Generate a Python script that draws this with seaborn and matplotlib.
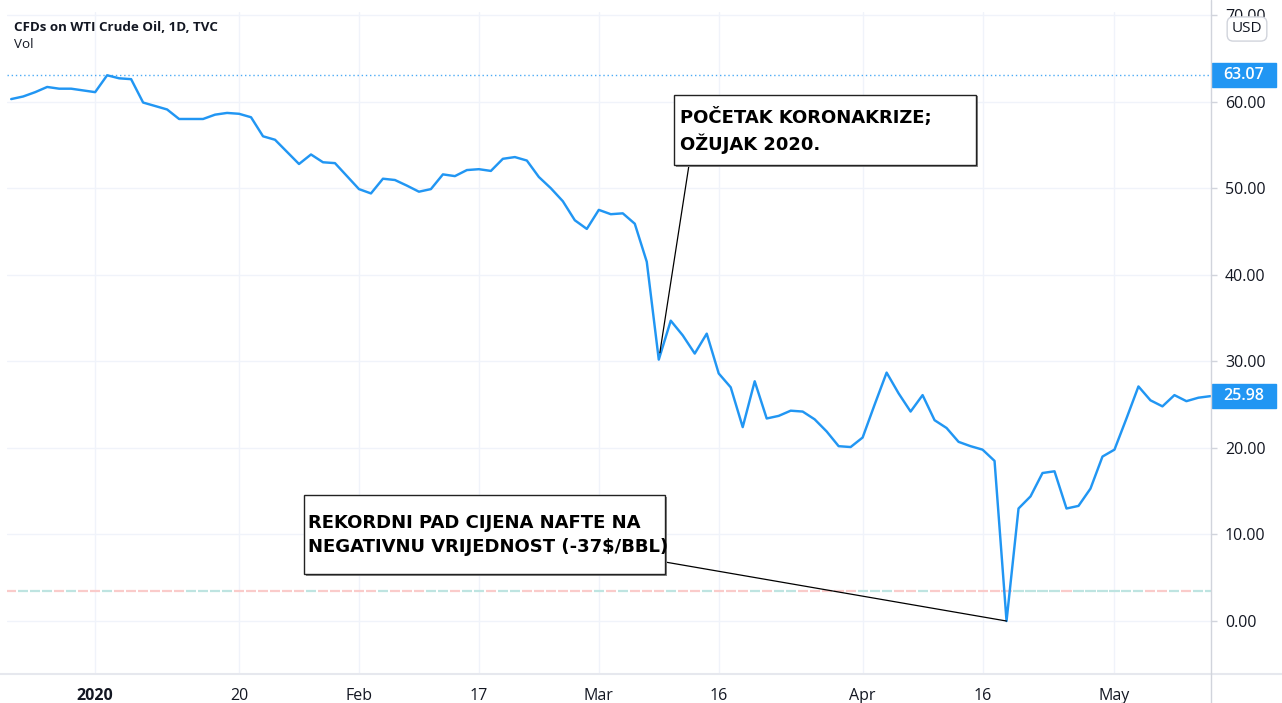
import numpy as np
import pandas as pd
import matplotlib
matplotlib.use("Agg")
import matplotlib.pyplot as plt
import matplotlib.transforms as mtransforms
from matplotlib.patches import Rectangle
from matplotlib.lines import Line2D
import seaborn as sns

# trading days on the chart (CFD calendar, no Dec 25 / Jan 1 / Good Friday)
start_date = "2019-12-20"
end_date = "2020-05-13"
holidays = ["2019-12-25", "2020-01-01", "2020-04-10"]

# daily close
close = [
    60.3, 60.6, 61.1, 61.7, 61.5, 61.5, 61.3,                    # Dec
    61.1, 63.05, 62.7, 62.6, 59.9, 59.5, 59.1, 58.0, 58.0, 58.0,  # Jan
    58.5, 58.7, 58.6, 58.2, 56.0, 55.6, 54.2, 52.8, 53.9, 53.0,
    52.9, 51.4,
    49.9, 49.4, 51.1, 50.95, 50.3, 49.6, 49.9, 51.6, 51.4, 52.1,  # Feb
    52.2, 52.0, 53.4, 53.6, 53.2, 51.3, 50.0, 48.5, 46.3, 45.3,
    47.5, 47.0, 47.1, 45.9, 41.5, 30.2, 34.7, 33.0, 30.9, 33.2,   # Mar
    28.6, 27.0, 22.4, 27.7, 23.4, 23.7, 24.3, 24.2, 23.3, 21.9,
    20.2, 20.1,
    21.2, 25.0, 28.7, 26.3, 24.2, 26.1, 23.2, 22.3, 20.7, 20.2,   # Apr
    19.8, 18.5, 0.0, 13.0, 14.4, 17.1, 17.3, 13.0, 13.3, 15.3,
    19.0,
    19.8, 23.4, 27.1, 25.5, 24.8, 26.1, 25.4, 25.8, 25.98,        # May
]

tick_dates = ["2020-01-02", "2020-01-20", "2020-02-03", "2020-02-17", "2020-03-02",
              "2020-03-16", "2020-04-01", "2020-04-16", "2020-05-01"]
tick_labels = ["2020", "20", "Feb", "17", "Mar", "16", "Apr", "16", "May"]

price_ticks = [0, 10, 20, 30, 40, 50, 60, 70]
high_price = 63.07
last_price = 25.98

note_covid = "POČETAK KORONAKRIZE;\nOŽUJAK 2020."
note_covid_date = "2020-03-09"
note_crash = "REKORDNI PAD CIJENA NAFTE NA\nNEGATIVNU VRIJEDNOST (-37$/BBL)"
note_crash_date = "2020-04-20"

BLUE = "#2196F3"
TEXT = "#131722"
GRID = "#F0F3FA"
BORDER = "#D1D4DC"
UP_VOL = "#BEE4E1"
DOWN_VOL = "#FACBCA"

W, H = 1282, 703


def fx(px):
    return px / W


def fy(py):
    return 1 - py / H


days = pd.bdate_range(start_date, end_date)
days = days[~days.isin(pd.to_datetime(holidays))]
df = pd.DataFrame({"bar": np.arange(len(days)), "close": close})
tick_pos = days.get_indexer(pd.to_datetime(tick_dates))

sns.set_style("white")
plt.rcParams["font.family"] = ["Open Sans", "DejaVu Sans"]

fig = plt.figure(figsize=(W / 100, H / 100), dpi=100)
ax = fig.add_axes([fx(7), fy(674), fx(1211) - fx(7), fy(12) - fy(674)])

sns.lineplot(data=df, x="bar", y="close", ax=ax, color=BLUE, linewidth=1.75)
ax.lines[0].set_clip_on(False)

# zero-volume indicator line: one dash per bar, coloured by up/down close
bars = df["bar"].to_numpy()
up = np.r_[False, np.diff(df["close"]) >= 0]
ax.hlines(np.full(len(bars), 3.47), bars - 0.42, bars + 0.42,
          colors=np.where(up, UP_VOL, DOWN_VOL), lw=1.6, zorder=1)

ax.axhline(high_price, color=BLUE, lw=1, ls=(0, (1, 2)), alpha=0.8)

ax.set_xlim(-0.35, 100.05)
ax.set_ylim(-6.12, 70.36)
for s in ax.spines.values():
    s.set_visible(False)
ax.grid(True, color=GRID, lw=1)
ax.set_axisbelow(True)
ax.set_xlabel("")
ax.set_ylabel("")

ax.yaxis.tick_right()
ax.set_yticks(price_ticks, [f"{v:.2f}" for v in price_ticks])
ax.set_xticks(tick_pos, tick_labels)
ax.tick_params(axis="y", length=4, width=1, color=BORDER, pad=6,
               labelsize=11.5, labelcolor=TEXT)
ax.tick_params(axis="x", length=3, width=1, color=BORDER, pad=7,
               labelsize=11.5, labelcolor=TEXT)
ax.get_xticklabels()[0].set_fontweight("bold")

# price scale / time scale separators
fig.add_artist(Line2D([0, 1], [fy(674), fy(674)], transform=fig.transFigure,
                      color="#E6E8EE", lw=1.5))
fig.add_artist(Line2D([fx(1211), fx(1211)], [0, 1], transform=fig.transFigure,
                      color=BORDER, lw=1))

# price labels on the scale
blend = mtransforms.blended_transform_factory(fig.transFigure, ax.transData)
for v in [high_price, last_price]:
    ax.add_patch(Rectangle((fx(1212), v - 1.35), fx(1276) - fx(1212), 2.7,
                           transform=blend, color=BLUE, clip_on=False, zorder=5))
    ax.text(fx(1244), v, f"{v:.2f}", transform=blend, ha="center", va="center",
            color="white", fontsize=11.5, fontweight="semibold", clip_on=False, zorder=6)

# currency badge sits over the lower half of the top price label, as on the chart
fig.text(fx(1247), fy(29), "USD", ha="center", va="center", fontsize=11, color=TEXT,
         zorder=10,
         bbox=dict(boxstyle="round,pad=0.3,rounding_size=0.4", fc="white", ec=BORDER, lw=1))

fig.text(fx(14), fy(27.5), "CFDs on WTI Crude Oil, 1D, TVC", fontsize=9.6,
         fontweight="bold", color=TEXT, va="center")
fig.text(fx(14), fy(45), "Vol", fontsize=9.6, color=TEXT, va="center")


def note_box(x0, y0, x1, y1, text, tx, ty):
    fig.add_artist(Rectangle((fx(x0 + 1.5), fy(y1 + 1.5)), fx(x1) - fx(x0), fy(y0) - fy(y1),
                             transform=fig.transFigure, fc="#888888", ec="none", zorder=7))
    fig.add_artist(Rectangle((fx(x0), fy(y1)), fx(x1) - fx(x0), fy(y0) - fy(y1),
                             transform=fig.transFigure, fc="white", ec="#222222",
                             lw=1, zorder=8))
    fig.text(fx(tx), fy(ty), text, fontsize=13, fontweight="bold", color="black",
             family="DejaVu Sans", ha="left", va="center", linespacing=1.4, zorder=9)


# leader lines
covid_bar = days.get_loc(pd.Timestamp(note_covid_date))
crash_bar = days.get_loc(pd.Timestamp(note_crash_date))
ax.annotate("", xy=(covid_bar, close[covid_bar]), xycoords="data",
            xytext=(fx(689), fy(165)), textcoords="figure fraction",
            arrowprops=dict(arrowstyle="-", color="black", lw=0.9, shrinkA=0, shrinkB=5),
            zorder=4)
ax.annotate("", xy=(crash_bar, close[crash_bar]), xycoords="data",
            xytext=(fx(665), fy(562)), textcoords="figure fraction",
            arrowprops=dict(arrowstyle="-", color="black", lw=0.9, shrinkA=0, shrinkB=0),
            zorder=4)

note_box(674, 95, 976, 165, note_covid, 680, 131)
note_box(304, 495, 665, 574, note_crash, 308, 535)

fig.savefig("out.png", dpi=100)
